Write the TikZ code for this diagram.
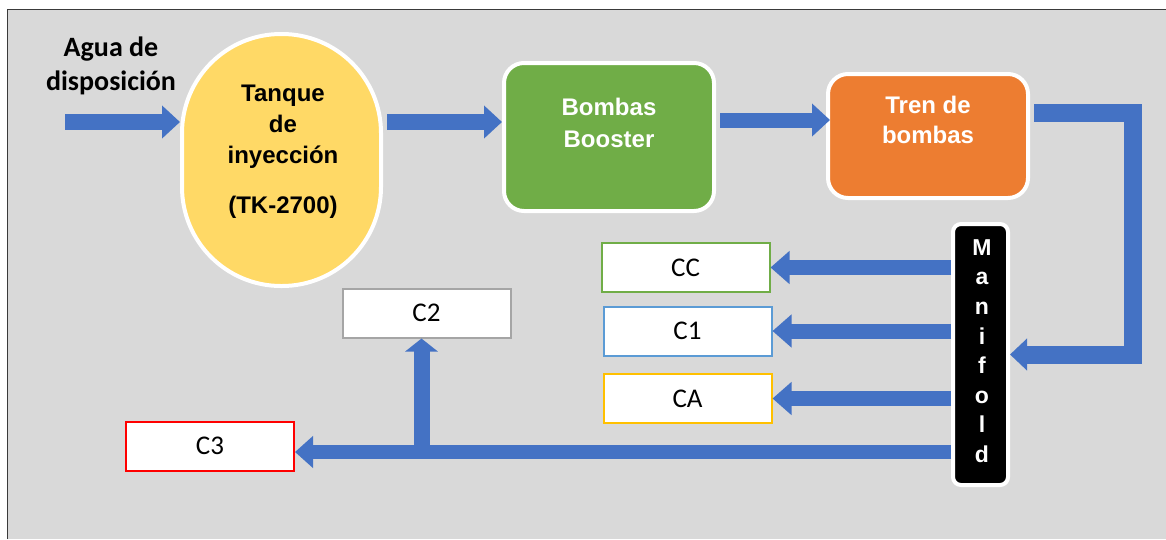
\documentclass[tikz,border=0pt]{standalone}
\usepackage{fontspec}
\setmainfont{Liberation Sans}
\newfontfamily\calibri{Carlito}
\usepackage{tikz}
\usetikzlibrary{arrows.meta}
\usetikzlibrary{shapes}
\definecolor{fondo}{HTML}{D9D9D9}
\definecolor{marco}{HTML}{3A3A3A}
\definecolor{azul}{HTML}{4472C4}
\definecolor{amarillo}{HTML}{FFD966}
\definecolor{verde}{HTML}{70AD47}
\definecolor{naranja}{HTML}{ED7D31}
\definecolor{celeste}{HTML}{5B9BD5}
\definecolor{oro}{HTML}{FFC000}
\definecolor{gris}{HTML}{A5A5A5}
\definecolor{rojo}{HTML}{FF0000}

\begin{document}
\begin{tikzpicture}[x=1pt,y=-1pt]
\tikzset{caja/.style={draw=white, line width=4pt, inner sep=0pt, rounded corners=20pt}}
\tikzset{salida/.style={draw, fill=white, line width=2pt, inner sep=0pt, minimum width=168pt, minimum height=49pt, font=\calibri\fontsize{27}{27}\selectfont}}
\tikzset{negrita/.style={align=center, font=\bfseries\fontsize{24}{31}\selectfont}}
\tikzset{flecha/.style={draw=azul, line width=16pt, -{Triangle[width=32pt,length=18pt]}}}
\useasboundingbox (0,0) rectangle (1166,539);
\fill[fondo] (8,10) rectangle (1166,539);
\draw[marco, line width=1.2pt] (7.5,539) -- (7.5,9.5) -- (1166,9.5);
\node[caja, fill=amarillo, rounded corners=99pt, minimum width=199pt, minimum height=252pt] (tk) at (281.5,160) {};
\node[caja, fill=verde, minimum width=210pt, minimum height=148pt] (bb) at (609,137) {};
\node[caja, fill=naranja, minimum width=200pt, minimum height=124pt] (tr) at (928,136) {};
\node[caja, fill=black, rounded corners=8pt, minimum width=55pt, minimum height=261pt] (mf) at (980.5,354.5) {};
\node[negrita] (tktxt) at (283,152) {Tanque\\de\\inyecci\'on\\[19pt](TK-2700)};
\node[negrita, white, font=\bfseries\fontsize{24}{32}\selectfont] (bbtxt) at (609,123) {Bombas\\Booster};
\node[negrita, white, font=\bfseries\fontsize{24}{30}\selectfont] (trtxt) at (928,120) {Tren de\\bombas};
\node[negrita, white, font=\bfseries\fontsize{23}{29.6}\selectfont] (mftxt) at (982,351) {M\\a\\n\\i\\f\\o\\l\\d};
\node[negrita, font=\calibri\bfseries\fontsize{28}{34}\selectfont] (agua) at (111,66) {Agua de\\disposici\'on};
\node[salida, draw=verde] (cc) at (685.5,267.5) {CC};
\node[salida, draw=celeste] (c1) at (687.5,331) {C1};
\node[salida, draw=oro] (ca) at (687.5,398.5) {CA};
\node[salida, draw=gris] (c2) at (426.5,313) {C2};
\node[salida, draw=rojo] (c3) at (210,446) {C3};
\coordinate (entrada) at (65,122);
\coordinate (codo) at (1133,113);
\coordinate (cruce) at ([yshift=-6pt]c3.east);
\draw[flecha] (entrada) -- (entrada -| tk.west);
\draw[flecha, shorten <=4pt] ([yshift=38pt]tk.east) -- ([yshift=38pt]tk.east -| bb.west);
\draw[flecha, line width=15pt, shorten <=4pt] ([yshift=17pt]bb.east) -- ([yshift=17pt,xshift=4pt]bb.east -| tr.west);
\draw[flecha, line width=18pt, line join=miter, -{Triangle[width=31pt,length=17pt]}] ([xshift=4pt]tr.east |- codo) -- (codo) |- (mf.east);
\draw[flecha, line width=15pt, -{Triangle[width=32pt,length=19pt]}] (cc.east -| mf.west) -- (cc.east);
\draw[flecha, line width=15pt, -{Triangle[width=32pt,length=19pt]}] (c1.east -| mf.west) -- (c1.east);
\draw[flecha, line width=15pt, -{Triangle[width=32pt,length=19pt]}] (ca.east -| mf.west) -- (ca.east);
\draw[flecha, line width=14pt, -{Triangle[width=31pt,length=18pt]}] (cruce -| mf.west) -- (cruce);
\draw[flecha, -{Triangle[width=32pt,length=13pt]}] ([xshift=-5pt]c2.south |- cruce) -- ([xshift=-5pt]c2.south);
\end{tikzpicture}
\end{document}
